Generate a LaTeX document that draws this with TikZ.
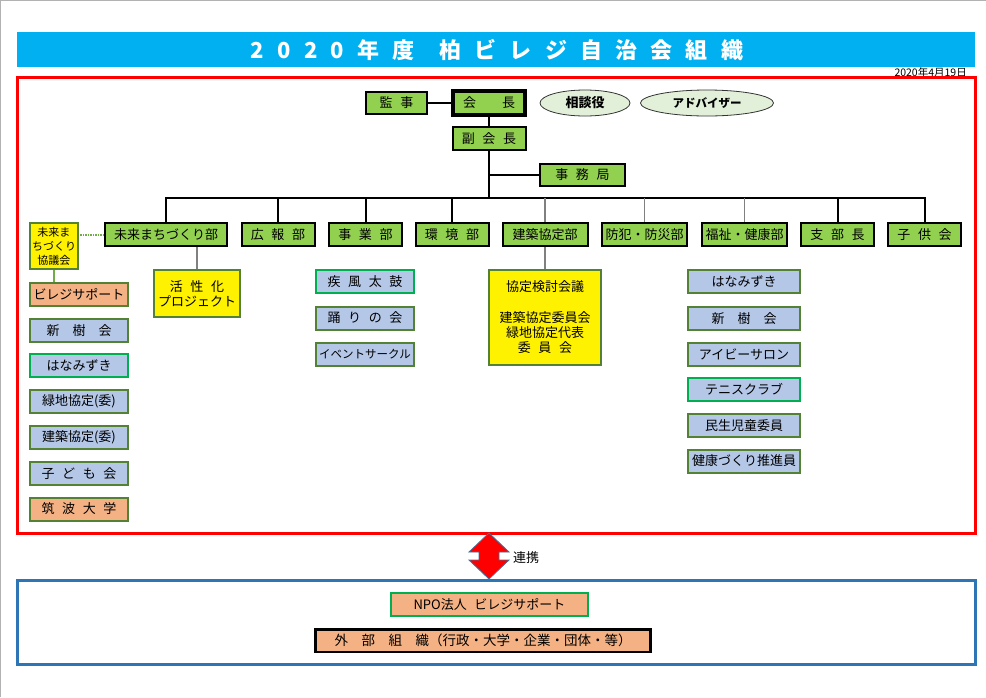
\documentclass[tikz,border=0pt]{standalone}
\usepackage{fontspec}
\setmainfont{Noto Sans CJK JP}[WordSpace=2.6]
\newfontfamily\titlefont{Noto Sans CJK JP}[LetterSpace=60]
\usepackage{xcolor}
\usetikzlibrary{shapes.geometric}
\definecolor{leaf}{HTML}{92D050}
\definecolor{grolive}{HTML}{548235}
\definecolor{grlight}{HTML}{70AD47}
\definecolor{vivid}{HTML}{00B050}
\definecolor{pale}{HTML}{B4C7E7}
\definecolor{peach}{HTML}{F4B183}
\definecolor{mint}{HTML}{E2F0D9}
\definecolor{sky}{HTML}{00B0F0}
\definecolor{steelblue}{HTML}{2E75B6}
\definecolor{steel}{HTML}{41719C}

\begin{document}
\begin{tikzpicture}[x=1pt,y=-1pt,
  every node/.style={inner sep=0pt, font=\fontsize{13}{15}\selectfont},
  bu/.style={draw=black, fill=leaf, line width=2pt, minimum width=73, minimum height=23},
  subbox/.style={draw=grolive, fill=pale, line width=2pt, minimum width=98, minimum height=23},
  kibou/.style={draw=grolive, fill=yellow, line width=2pt, align=center},
  oval/.style={ellipse, draw=black!80, fill=mint, line width=0.8pt, minimum height=26, font=\bfseries\fontsize{13}{15}\selectfont},
  solidline/.style={line width=2pt, draw=black},
  grayline/.style={line width=1.5pt, draw=black!50}]
\useasboundingbox (0,0) rectangle (986,697);
\draw[gray!60, line width=1pt] (0.5,697) -- (0.5,0.5) -- (986,0.5);

\fill[sky] (17,32) rectangle (975,67);
\node[text=white, font=\titlefont\bfseries\fontsize{22}{24}\selectfont] (title) at (497,50) {2020年度\hspace{25pt}柏ビレジ自治会組織};
\node[anchor=east, font=\fontsize{10.5}{12}\selectfont] (date) at (967,72) {2020年4月19日};

\draw[red, line width=3pt] (17,77) rectangle (975,533);

\node[bu, minimum width=61, minimum height=22] (kanji) at (396.5,103) {監 事};
\node[bu, line width=3.5pt, minimum width=72, minimum height=24] (kaicho) at (489,103) {会　　長};
\node[oval, minimum width=90] (soudan) at (585,103) {相談役};
\node[oval, minimum width=133, font=\bfseries\fontsize{11.5}{13}\selectfont] (adviser) at (707,103) {アドバイザー};
\node[bu] (fuku) at (489,138.5) {副 会 長};
\node[bu, minimum width=85, minimum height=22] (jimu) at (582.5,175) {事 務 局};
\coordinate (bus) at (489,198);
\draw[solidline] (kanji) -- (kaicho);
\draw[solidline] (kaicho) -- (fuku);
\draw[solidline] (fuku) -- (bus);
\draw[solidline] (jimu.west) -- (jimu.west -| fuku.south);

\def\by{234.5}
\node[bu, minimum width=122] (mirai) at (166,\by) {未来まちづくり部};
\node[bu] (kouhou) at (278,\by) {広 報 部};
\node[bu] (jigyou) at (365.5,\by) {事 業 部};
\node[bu] (kankyou) at (452,\by) {環 境 部};
\node[bu, minimum width=85] (kenchiku) at (545,\by) {建築協定部};
\node[bu, minimum width=85] (bouhan) at (644.5,\by) {防犯・防災部};
\node[bu, minimum width=85] (fukushi) at (744.5,\by) {福祉・健康部};
\node[bu] (shibu) at (837.5,\by) {支 部 長};
\node[bu] (kodomo) at (924.5,\by) {子 供 会};
\draw[solidline] (mirai.north) |- (bus) -| (kodomo.north);
\foreach \d in {kouhou,jigyou,kankyou,shibu}
  \draw[solidline] (\d.north) -- (\d.north |- bus);
\foreach \d in {kenchiku,bouhan,fukushi}
  \draw[grayline] (\d.north) -- (\d.north |- bus);

% left column
\node[kibou, minimum width=48, minimum height=46, font=\fontsize{11}{14}\selectfont] (kyogi) at (54,246) {未来ま\\ちづくり\\協議会};
\draw[grlight, line width=2pt, dash pattern=on 1.5pt off 1pt] (mirai.west) -- (mirai.west -| kyogi.east);
\def\lx{79}
\node[subbox, fill=peach] (vsup) at (\lx,294.5) {ビレジサポート};
\node[subbox] (shinju) at (\lx,330.5) {新　樹　会};
\node[subbox, draw=vivid] (hana) at (\lx,365.5) {はなみずき};
\node[subbox] (ryokuchi) at (\lx,401.5) {緑地協定(委)};
\node[subbox] (kenkyo) at (\lx,437.5) {建築協定(委)};
\node[subbox] (kodomokai) at (\lx,473.5) {子 ど も 会};
\node[subbox, fill=peach] (tsukuba) at (\lx,509) {筑 波 大 学};
\draw[grlight, line width=2pt] (kyogi.south) -- (kyogi.south |- vsup.north);

\node[kibou, minimum width=86, minimum height=47] (kassei) at (197,293.5) {活 性 化\\プロジェクト};
\draw[grayline] (kassei.north) -- (kassei.north |- mirai.south);

\def\jx{365}
\node[subbox, draw=vivid] (shippu) at (\jx,281.5) {疾 風 太 鼓};
\node[subbox] (odori) at (\jx,318) {踊 り の 会};
\node[subbox, font=\fontsize{11.5}{13}\selectfont] (event) at (\jx,354) {イベントサークル};

\node[kibou, minimum width=112, minimum height=95, font=\fontsize{13}{15.3}\selectfont] (kyotei) at (545,317.5) {協定検討会議\\[15pt]建築協定委員会\\緑地協定代表\\委 員 会};
\draw[grayline] (kyotei.north) -- (kyotei.north |- kenchiku.south);

\def\fx{744}
\node[subbox, minimum width=112] (hana2) at (\fx,281.5) {はなみずき};
\node[subbox, minimum width=112] (shinju2) at (\fx,318.5) {新　樹　会};
\node[subbox, minimum width=112] (ivy) at (\fx,354) {アイビーサロン};
\node[subbox, minimum width=112, draw=vivid] (tennis) at (\fx,389.5) {テニスクラブ};
\node[subbox, minimum width=112] (minsei) at (\fx,425.5) {民生児童委員};
\node[subbox, minimum width=112] (kenko) at (\fx,461) {健康づくり推進員};

% bottom
\coordinate (up) at (489,533);
\coordinate (dn) at (489,579);
\filldraw[fill=red, draw=steel, line width=0.8pt] (up) -- ++(20,19) -- ++(-10,0) -- ++(0,8) -- ++(10,0) -- (dn) -- ++(-20,-19) -- ++(10,0) -- ++(0,-8) -- ++(-10,0) -- cycle;
\node[anchor=west] (renkei) at (513,558) {連携};
\draw[steelblue, line width=3pt] (17,580) rectangle (975,664);
\node[subbox, draw=vivid, fill=peach, minimum width=197] (npo) at (489.5,604.5) {NPO法人 ビレジサポート};
\node[subbox, draw=black, line width=2.5pt, fill=peach, minimum width=335, minimum height=22.5, font=\fontsize{13.5}{15}\selectfont] (gaibu) at (483,640.5) {外　部　組　織（行政・大学・企業・団体・等）};

\end{tikzpicture}
\end{document}
